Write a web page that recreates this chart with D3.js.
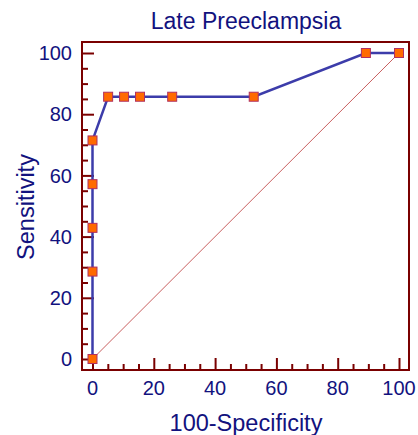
<!DOCTYPE html>
<html>
<head>
<meta charset="utf-8">
<script src="https://cdn.jsdelivr.net/npm/d3@7"></script>
<style>
  body { margin: 0; background: #fff; }
  text { font-family: "Liberation Sans", Arial, sans-serif; fill: #12127e; }
</style>
</head>
<body>
<div id="chart"></div>
<script>
// ROC points (100-specificity, sensitivity)
const fpr = [0, 0, 0, 0, 0, 5.1, 10.3, 15.5, 26, 52.6, 89.2, 100];
const tpr = [0, 28.57, 42.86, 57.14, 71.43, 85.71, 85.71, 85.71, 85.71, 85.71, 100, 100];
const tickVals = [0, 20, 40, 60, 80, 100];

const width = 418, height = 435;
const frame = {left: 82, top: 42, right: 409, bottom: 370};

let svg = d3.select("#chart").append("svg")
    .attr("width", width)
    .attr("height", height);

let x = d3.scaleLinear().domain([0, 100]).range([92.5, 399]);
let y = d3.scaleLinear().domain([0, 100]).range([359, 53]);

let data = fpr.map(function (d, i) { return {x: d, y: tpr[i]}; });

// diagonal reference
svg.append("line")
    .attr("x1", x(0)).attr("y1", y(0))
    .attr("x2", x(100)).attr("y2", y(100))
    .attr("stroke", "#b01818")
    .attr("stroke-width", 0.7);

// axes drawn with ticks pointing inward
let minor = d3.range(0, 101, 5);

let yAxis = d3.axisRight(y).tickValues(minor).tickSize(0).tickFormat("");
let gy = svg.append("g").attr("transform", "translate(" + frame.left + ",0)").call(yAxis);
gy.select(".domain").remove();
gy.selectAll(".tick line")
    .attr("x2", function (d) { return d % 20 === 0 ? 12 : 6; })
    .attr("stroke", "#7a0000")
    .attr("stroke-width", 2);

let xAxis = d3.axisTop(x).tickValues(minor).tickSize(0).tickFormat("");
let gx = svg.append("g").attr("transform", "translate(0," + frame.bottom + ")").call(xAxis);
gx.select(".domain").remove();
gx.selectAll(".tick line")
    .attr("y2", function (d) { return d % 20 === 0 ? -12 : -6; })
    .attr("stroke", "#7a0000")
    .attr("stroke-width", 2);

// frame
svg.append("rect")
    .attr("x", frame.left).attr("y", frame.top)
    .attr("width", frame.right - frame.left)
    .attr("height", frame.bottom - frame.top)
    .attr("fill", "none")
    .attr("stroke", "#7a0000")
    .attr("stroke-width", 2);

// tick labels
svg.selectAll(".ylab")
    .data(tickVals)
    .enter()
    .append("text")
    .attr("class", "ylab")
    .attr("x", 72)
    .attr("y", function (d) { return y(d); })
    .attr("dy", "0.36em")
    .attr("text-anchor", "end")
    .attr("font-size", 20)
    .text(function (d) { return d; });

svg.selectAll(".xlab")
    .data(tickVals)
    .enter()
    .append("text")
    .attr("class", "xlab")
    .attr("x", function (d) { return x(d); })
    .attr("y", 395)
    .attr("text-anchor", "middle")
    .attr("font-size", 20)
    .text(function (d) { return d; });

// titles
svg.append("text")
    .attr("x", 246).attr("y", 29)
    .attr("text-anchor", "middle")
    .attr("font-size", 23)
    .text("Late Preeclampsia");

svg.append("text")
    .attr("x", 246).attr("y", 431)
    .attr("text-anchor", "middle")
    .attr("font-size", 23.5)
    .text("100-Specificity");

svg.append("text")
    .attr("transform", "translate(34,207) rotate(-90)")
    .attr("text-anchor", "middle")
    .attr("font-size", 23.5)
    .text("Sensitivity");

// ROC curve
let line = d3.line()
    .x(function (d) { return x(d.x); })
    .y(function (d) { return y(d.y); });

svg.append("path")
    .datum(data)
    .attr("fill", "none")
    .attr("stroke", "#3c3caa")
    .attr("stroke-width", 2.5)
    .attr("d", line);

svg.selectAll(".pt")
    .data(data)
    .enter()
    .append("rect")
    .attr("class", "pt")
    .attr("x", function (d) { return x(d.x) - 4.5; })
    .attr("y", function (d) { return y(d.y) - 4.5; })
    .attr("width", 9)
    .attr("height", 9)
    .attr("fill", "#ff6a00")
    .attr("stroke", "#b03060")
    .attr("stroke-width", 1);
</script>
</body>
</html>
